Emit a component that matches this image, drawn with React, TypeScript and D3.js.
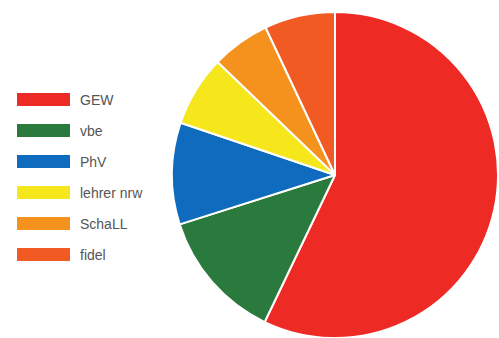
import React from "react";
import * as d3 from "d3";

const labels = ["GEW", "vbe", "PhV", "lehrer nrw", "SchaLL", "fidel"];
const values = [57.1, 13.0, 10.1, 7.0, 5.8, 7.0];
const colors = ["#ee2a24", "#2a7a3e", "#0e6bbd", "#f6e61c", "#f5921e", "#f15a22"];

const W = 499;
const H = 338;

export default function App() {
  const cx = 335;
  const cy = 175;
  const r = 163;
  const pie = d3.pie<number>().sort(null).value((d) => d);
  const arcs = pie(values);
  const arc = d3.arc<d3.PieArcDatum<number>>().innerRadius(0).outerRadius(r);
  const legendY = d3.scaleBand<string>().domain(labels).range([88, 274]).paddingInner(0);
  return (
    <svg
      width={W}
      height={H}
      style={{ position: "absolute", left: 0, top: 0, background: "#fff" }}
    >
      <g transform={`translate(${cx},${cy})`}>
        {arcs.map((a, i) => (
          <path key={i} d={arc(a) || ""} fill={colors[i]} stroke="#fff" strokeWidth={2} strokeLinejoin="round" />
        ))}
      </g>
      {labels.map((l, i) => {
        const y = (legendY(l) as number) + 5;
        return (
          <g key={l}>
            <rect x={17} y={y} width={53} height={13} fill={colors[i]} />
            <text
              x={80}
              y={y + 12}
              fontFamily="Liberation Sans, Arial, sans-serif"
              fontSize={14}
              fill="#555"
            >
              {l}
            </text>
          </g>
        );
      })}
    </svg>
  );
}
